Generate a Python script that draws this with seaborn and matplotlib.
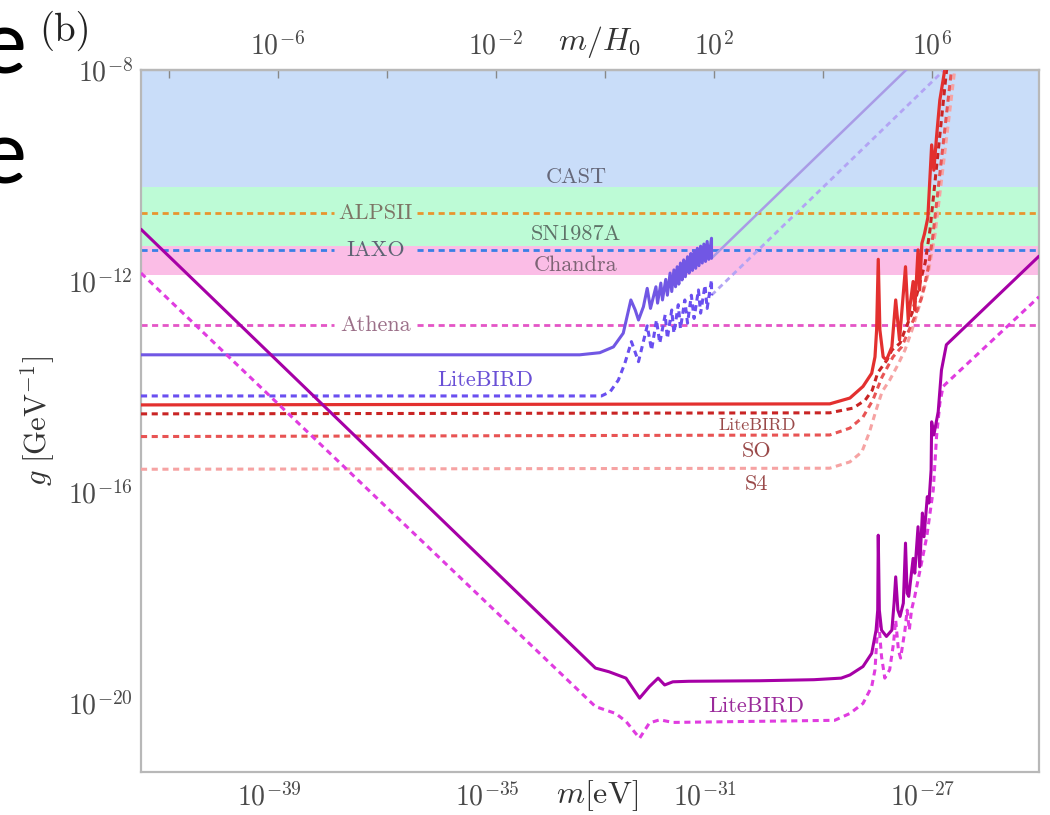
import numpy as np
import matplotlib
matplotlib.use('Agg')
import matplotlib.pyplot as plt
import seaborn as sns
from matplotlib.ticker import FixedLocator, FixedFormatter, NullLocator

# Hubble constant in eV, for the top m/H0 axis
H0 = 1.44e-33

# plot range (log10 of m[eV] and g[GeV^-1])
xlim_log = (-41.35, -24.87)
ylim_log = (-21.31, -8.0)

# excluded regions (log10 g)
band_names = ['CAST', 'SN1987A', 'Chandra']
band_lo = [-10.22, -11.34, -11.89]
band_hi = [-8.0, -10.22, -11.34]
band_colors = ['#c9ddf9', '#bdfbd6', '#fbbde6']
band_label_m = [-33.37, -33.37, -33.37]
band_label_g = [-10.03, -11.11, -11.70]
band_text_colors = ['#66687a', '#5f7268', '#7d6475']

# projected experiments (log10 g)
hline_names = ['ALPSII', 'IAXO', 'Athena']
hline_vals = [-10.71, -11.41, -12.83]
hline_colors = ['#e8952e', '#3a7fe6', '#e455c6']
hline_text_colors = ['#7d7566', '#5f6474', '#9c7089']
hline_label_m = -37.05

# LiteBIRD, polarisation rotation (purple)
ps_logm = [-41.35, -33.30, -32.93, -32.68, -32.50, -32.36, -32.28, -32.22, -32.13, -32.06, -32.00,
           -31.90, -31.87, -31.81, -31.78, -31.72, -31.69, -31.64, -31.61, -31.57, -31.54, -31.51,
           -31.48, -31.45, -31.42, -31.39, -31.36, -31.32, -31.29, -31.26, -31.23, -31.20, -31.17,
           -31.14, -31.11, -31.08, -31.05, -31.02, -30.99, -30.96, -30.93, -30.88, -30.88]
ps_logg = [-13.40, -13.40, -13.36, -13.25, -12.99, -12.36, -12.55, -12.74, -12.49, -12.14, -12.52,
           -12.11, -12.42, -12.04, -12.36, -11.97, -12.27, -11.85, -12.20, -11.79, -12.11, -11.73,
           -12.06, -11.66, -11.98, -11.60, -11.92, -11.54, -11.85, -11.48, -11.80, -11.43, -11.76,
           -11.38, -11.71, -11.34, -11.66, -11.30, -11.63, -11.25, -11.59, -11.19, -11.57]
ps_ext_logm = [-30.88, -27.00]
ps_ext_logg = [-11.57, -7.69]

pd_logm = [-41.35, -32.90, -32.74, -32.59, -32.47, -32.35, -32.22, -32.06, -31.98, -31.89, -31.83,
           -31.73, -31.69, -31.61, -31.57, -31.49, -31.45, -31.37, -31.32, -31.25, -31.20, -31.12,
           -31.08, -31.00, -30.96, -30.88, -30.88]
pd_logg = [-14.18, -14.18, -14.10, -13.88, -13.56, -13.15, -13.53, -12.85, -13.31, -12.74, -13.18,
           -12.64, -13.09, -12.55, -12.99, -12.45, -12.90, -12.36, -12.80, -12.27, -12.71, -12.17,
           -12.61, -12.08, -12.52, -11.98, -12.27]
pd_ext_logm = [-30.88, -26.50]
pd_ext_logg = [-12.27, -7.89]

# red: LiteBIRD / SO / S4
rs_logm = [-41.35, -28.71, -28.34, -28.10, -27.94, -27.88, -27.85, -27.82, -27.79, -27.73, -27.67,
           -27.57, -27.50, -27.43, -27.32, -27.27, -27.18, -27.15, -27.09, -27.06, -27.02, -26.97,
           -26.91, -26.84, -26.80, -26.75, -26.69, -26.60, -26.55]
rs_logg = [-14.35, -14.33, -14.22, -14.00, -13.75, -13.44, -12.93, -11.59, -12.93, -13.44, -13.50,
           -13.25, -12.36, -13.12, -11.73, -12.74, -12.01, -12.55, -11.41, -12.17, -11.29, -11.10,
           -10.80, -9.42, -9.90, -9.26, -8.57, -8.00, -7.70]

rl_logm = [-41.35, -28.71, -28.28, -28.06, -27.93, -27.83, -27.66, -27.57, -27.42, -27.33, -27.20,
           -27.09, -26.96, -26.87, -26.56]
rl_logg = [-14.52, -14.50, -14.41, -14.26, -14.07, -13.74, -13.50, -13.31, -13.18, -12.93, -12.61,
           -12.17, -11.66, -11.03, -7.94]

so_logm = [-41.35, -28.71, -28.34, -28.10, -27.92, -27.75, -27.55, -27.39, -27.28, -27.15, -27.02,
           -26.91, -26.82, -26.47]
so_logg = [-14.95, -14.92, -14.79, -14.58, -14.26, -13.82, -13.44, -13.25, -12.99, -12.68, -12.30,
           -11.79, -11.17, -7.94]

s4_logm = [-41.35, -28.71, -28.34, -28.12, -27.98, -27.86, -27.75, -27.61, -27.46, -27.33, -27.20,
           -27.06, -26.91, -26.78, -26.41]
s4_logg = [-15.57, -15.55, -15.43, -15.24, -14.86, -14.45, -14.10, -13.88, -13.59, -13.31, -12.93,
           -12.45, -11.89, -11.13, -7.94]

# magenta: LiteBIRD
ms_logm = [-41.35, -33.01, -32.76, -32.45, -32.20, -32.02, -31.86, -31.74, -31.59, -31.30, -30.00,
           -29.00, -28.50, -28.34, -28.10, -27.94, -27.86, -27.83, -27.82, -27.80, -27.76, -27.67,
           -27.57, -27.53, -27.50, -27.46, -27.42, -27.36, -27.32, -27.29, -27.26, -27.18, -27.15,
           -27.09, -27.06, -27.01, -26.98, -26.92, -26.89, -26.85, -26.84, -26.80, -26.72, -26.66,
           -26.57, -24.87]
ms_logg = [-11.02, -19.34, -19.41, -19.53, -19.91, -19.69, -19.53, -19.66, -19.60, -19.59, -19.58,
           -19.56, -19.53, -19.47, -19.31, -19.06, -18.62, -18.24, -16.82, -18.24, -18.62, -18.74,
           -18.62, -18.11, -17.61, -18.24, -18.36, -18.11, -16.97, -17.92, -17.98, -17.26, -17.54,
           -16.66, -17.42, -16.40, -16.85, -16.09, -16.21, -15.58, -14.67, -14.92, -14.48, -13.69,
           -13.21, -11.53]

md_logm = [-41.35, -33.01, -32.64, -32.45, -32.20, -32.02, -31.83, -31.59, -28.62, -28.34, -28.10,
           -27.94, -27.88, -27.82, -27.76, -27.70, -27.61, -27.54, -27.50, -27.45, -27.41, -27.33,
           -27.29, -27.25, -27.21, -27.15, -27.09, -27.04, -26.99, -26.93, -26.87, -26.81, -26.75,
           -26.69, -26.63, -26.57, -24.87]
md_logg = [-11.85, -20.07, -20.20, -20.35, -20.67, -20.38, -20.32, -20.37, -20.33, -20.20, -20.01,
           -19.69, -19.37, -18.36, -19.12, -19.53, -19.37, -18.87, -18.43, -19.00, -19.15, -18.62,
           -18.24, -18.62, -18.24, -17.98, -17.67, -17.42, -17.16, -16.85, -16.40, -15.96, -14.95,
           -14.32, -14.00, -13.94, -12.30]

# tick labels
xtick_exp = [-41, -39, -37, -35, -33, -31, -29, -27, -25]
xlabel_exp = [-39, -35, -31, -27]
ytick_exp = list(range(-21, -7))
ylabel_exp = [-20, -16, -12, -8]
toptick_exp = [-8, -6, -4, -2, 0, 2, 4, 6]
toplabel_exp = [-6, -2, 2, 6]

sns.set_theme(style='white')
plt.rcParams['font.family'] = ['cmr10', 'DejaVu Serif']
plt.rcParams['mathtext.fontset'] = 'cm'
plt.rcParams['axes.unicode_minus'] = False

fig = plt.figure(figsize=(10.5, 8.15), dpi=100)
ax = fig.add_axes([141 / 1050, 1 - 772 / 815, 898 / 1050, 702 / 815])
ax.set_xscale('log')
ax.set_yscale('log')
ax.set_xlim(10 ** xlim_log[0], 10 ** xlim_log[1])
ax.set_ylim(10 ** ylim_log[0], 10 ** ylim_log[1])

# shaded bands
for lo, hi, c, name, lm, lg, tc in zip(band_lo, band_hi, band_colors, band_names,
                                       band_label_m, band_label_g, band_text_colors):
    ax.axhspan(10 ** lo, 10 ** hi, color=c, lw=0, zorder=0)
    ax.text(10 ** lm, 10 ** lg, name, ha='center', va='center', fontsize=16, color=tc, zorder=2)

# horizontal projections, broken where the label sits
gap = 0.76
for val, c, name, tc in zip(hline_vals, hline_colors, hline_names, hline_text_colors):
    for a, b in [(xlim_log[0], hline_label_m - gap), (hline_label_m + gap, xlim_log[1])]:
        ax.plot([10 ** a, 10 ** b], [10 ** val, 10 ** val], color=c, lw=2.0,
                linestyle=(0, (2.2, 1.6)), zorder=1)
    ax.text(10 ** hline_label_m, 10 ** val, name, ha='center', va='center', fontsize=16,
            color=tc, zorder=2)


def curve(logm, logg, color, ls='-', lw=2.0, alpha=1.0, z=3):
    sns.lineplot(x=10 ** np.asarray(logm), y=10 ** np.asarray(logg), ax=ax, color=color,
                 linestyle=ls, linewidth=lw, alpha=alpha, sort=False, estimator=None, zorder=z)


dash = (0, (2.0, 1.5))
# purple
curve(ps_ext_logm, ps_ext_logg, '#a99be6', lw=1.8)
curve(pd_ext_logm, pd_ext_logg, '#b3a4f4', ls=dash, lw=2.0)
curve(pd_logm, pd_logg, '#6a4ff0', ls=dash, lw=2.2)
curve(ps_logm, ps_logg, '#7157e4', lw=2.2)
# red
curve(s4_logm, s4_logg, '#f6a3a3', ls=dash, lw=2.2)
curve(so_logm, so_logg, '#e85454', ls=dash, lw=2.2)
curve(rl_logm, rl_logg, '#c92424', ls=dash, lw=2.2)
curve(rs_logm, rs_logg, '#e3302f', lw=2.3)
# magenta
curve(md_logm, md_logg, '#e03ce0', ls=dash, lw=2.2)
curve(ms_logm, ms_logg, '#a600a6', lw=2.2)

# curve labels
ax.text(10 ** -35.04, 10 ** -13.88, 'LiteBIRD', ha='center', va='center', fontsize=16, color='#6a50d6')
ax.text(10 ** -30.05, 10 ** -14.73, 'LiteBIRD', ha='center', va='center', fontsize=13, color='#9a4a4a')
ax.text(10 ** -30.05, 10 ** -15.22, 'SO', ha='center', va='center', fontsize=16, color='#9a4a4a')
ax.text(10 ** -30.05, 10 ** -15.85, 'S4', ha='center', va='center', fontsize=16, color='#9a4a4a')
ax.text(10 ** -30.05, 10 ** -20.06, 'LiteBIRD', ha='center', va='center', fontsize=16, color='#9a2a9a')

# axes styling
frame_c = '#b8b8b8'
for s in ax.spines.values():
    s.set_color(frame_c)
    s.set_linewidth(1.6)
ax.xaxis.set_major_locator(FixedLocator([10.0 ** e for e in xtick_exp]))
ax.xaxis.set_major_formatter(FixedFormatter(
    [r'$10^{%d}$' % e if e in xlabel_exp else '' for e in xtick_exp]))
ax.xaxis.set_minor_locator(NullLocator())
ax.yaxis.set_major_locator(FixedLocator([10.0 ** e for e in ytick_exp]))
ax.yaxis.set_major_formatter(FixedFormatter(
    [r'$10^{%d}$' % e if e in ylabel_exp else '' for e in ytick_exp]))
ax.yaxis.set_minor_locator(NullLocator())
ax.tick_params(axis='both', which='major', direction='in', length=6, width=1.0,
               color='#888888', labelsize=20, labelcolor='#4a4a4a')
ax.tick_params(axis='x', pad=8)
ax.tick_params(axis='y', pad=6)

secax = ax.secondary_xaxis('top', functions=(lambda m: m / H0, lambda r: r * H0))
secax.xaxis.set_major_locator(FixedLocator([10.0 ** e for e in toptick_exp]))
secax.xaxis.set_major_formatter(FixedFormatter(
    [r'$10^{%d}$' % e if e in toplabel_exp else '' for e in toptick_exp]))
secax.xaxis.set_minor_locator(NullLocator())
secax.tick_params(axis='x', direction='in', length=6, width=1.0, color='#888888',
                  labelsize=20, labelcolor='#4a4a4a', pad=7)
secax.spines['top'].set_color(frame_c)
secax.spines['top'].set_linewidth(1.6)

ax.set_ylabel(r'$g\ [\mathrm{GeV}^{-1}]$', fontsize=22, color='#333333')
ax.yaxis.set_label_coords(-0.094, 0.5)
ax.text(0.508, -0.034, r'$m[\mathrm{eV}]$', transform=ax.transAxes, ha='center', va='center',
        fontsize=23, color='#333333')
ax.text(0.511, 1.04, r'$m/H_0$', transform=ax.transAxes, ha='center', va='center',
        fontsize=23, color='#333333')

# panel tag and the clipped slide text at the left margin
fig.text(65 / 1050, 1 - 31 / 815, '(b)', ha='center', va='center', fontsize=28, color='#222222')
fig.text(26 / 1050, 1 - 74 / 815, 'e', ha='right', va='baseline', fontsize=64,
         family=['Lato', 'DejaVu Sans'], color='black')
fig.text(26 / 1050, 1 - 184 / 815, 'e', ha='right', va='baseline', fontsize=64,
         family=['Lato', 'DejaVu Sans'], color='black')

fig.savefig('out.png', dpi=100)
